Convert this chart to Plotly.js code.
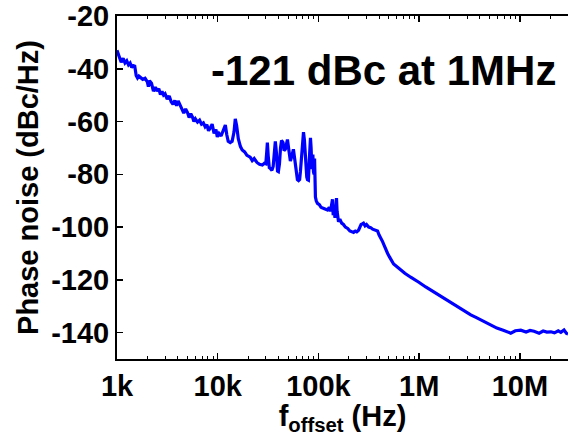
<!DOCTYPE html>
<html>
<head>
<meta charset="utf-8">
<script src="https://cdn.plot.ly/plotly-3.0.1.min.js"></script>
<style>html,body{margin:0;padding:0;background:#fff;}#chart{width:568px;height:436px;}</style>
</head>
<body>
<div id="chart"></div>
<script>
// Offset frequency (Hz)
var freqHz = [
  1000,1050,1100,1150,1200,1250,1300,1350,1400,1450,1500,1550,1600,1650,1700,1800,1900,2000,2050,2100,
  2200,2300,2400,2500,2600,2700,2800,2900,3000,3150,3300,3450,3600,3750,3900,4050,4200,4400,4600,4800,
  5000,5200,5400,5600,5800,6000,6300,6600,6900,7200,7500,7800,8100,8400,8800,9200,9600,9900,10300,10800,
  11400,11900,12300,12700,13300,13900,14500,14930,15400,16000,16800,17500,18500,19500,21000,22000,23000,24500,26000,27700,
  29000,30000,30600,31100,31700,32500,33300,34500,35500,36500,37300,38300,39200,40000,41000,42000,43000,44500,45500,46900,
  48000,49200,50500,51500,52600,54500,56400,58000,60000,61800,63500,65000,66200,68000,69500,71000,72500,74500,76500,77800,
  79500,81000,82500,83300,84500,86000,87200,88000,89200,90500,91500,92500,93300,95000,97700,102000,106000,110000,116000,123000,
  128000,132000,135000,137800,140000,143000,146000,149000,151000,153000,156000,158200,163000,170000,177000,185000,195000,205000,215000,223000,
  232000,240000,250000,258000,265000,272000,280000,290000,300000,315000,330000,345000,360000,375000,386000,400000,415000,433000,450000,470000,
  486000,510000,535000,557000,610000,655000,720000,823000,950000,1000000,1160000,1380000,1640000,1900000,2200000,2650000,3250000,3700000,4090000,4600000,
  5140000,5900000,6930000,7500000,8100000,9000000,10200000,11500000,12600000,13800000,15500000,17000000,18500000,20300000,22000000,24000000,25500000,27400000,29000000,30000000
];
// Phase noise (dBc/Hz)
var phaseNoise = [
  -33,-35.5,-37.5,-36,-37.8,-37,-38.5,-37.8,-39.5,-38.8,-39,-42.5,-43.5,-42.8,-43.2,-44,-43.6,-45,-46.8,-44.5,
  -45.5,-48.5,-47,-48.5,-47.5,-49.8,-48.6,-50,-49.5,-51.5,-50.3,-52.5,-53.5,-52,-54,-52.2,-53.5,-55.5,-56.8,-55.2,
  -56.5,-58.5,-57,-58.2,-60,-59,-60.2,-59.5,-61,-60.5,-62,-61.2,-63.5,-62.5,-61,-64.5,-63,-65.8,-64.5,-65.5,
  -63.5,-61.3,-65,-67.5,-68,-67.5,-64,-59,-61.5,-66.5,-69.5,-70.8,-71.5,-72.8,-73.5,-74.8,-74,-75.5,-76.2,-76.5,
  -75.8,-76,-72,-68,-73,-77.5,-77.8,-78.5,-77,-72,-67.5,-72,-78.8,-79,-76,-70,-67.2,-68,-71,-70.5,
  -68,-66.8,-70,-73.5,-75,-73,-70.5,-74,-79,-82,-82.4,-82,-79,-72,-66,-64,-67,-75,-81,-82,
  -82.2,-75,-68,-66.2,-70,-78,-76,-72.5,-79,-80,-74,-84,-88.6,-90,-91,-91.5,-92.5,-92.8,-93.2,-93.5,
  -92.5,-94,-91.5,-89.5,-95.5,-94,-96.5,-93,-89,-94,-97.5,-98,-97,-98.5,-99,-100,-100.5,-101.5,-101.8,-102,
  -101.5,-101.8,-101.2,-100,-99,-98.8,-98.5,-99.5,-99,-100,-100.2,-100.8,-101,-101.2,-101.5,-103,-104,-105.5,-107,-109,
  -110,-111.5,-113,-114,-115.2,-116.3,-117.5,-119,-120.3,-121,-122.7,-124.5,-126.5,-128,-129.6,-131.5,-133.3,-134.3,-135.2,-136,
  -137.2,-138.3,-139.2,-139.6,-140.2,-139.3,-139.1,-139.8,-139.2,-139.5,-140.2,-139.4,-139.8,-139.7,-140.1,-139.3,-139.9,-139,-140.3,-140.5
];
var xTickVals = [1e3, 1e4, 1e5, 1e6, 1e7];
var xTickText = ['1k', '10k', '100k', '1M', '10M'];
var yTickVals = [-140, -120, -100, -80, -60, -40, -20];
var yTickText = ['-140', '-120', '-100', '-80', '-60', '-40', '-20'];
var annotationText = '-121 dBc at 1MHz';

var minorVals = [];
for (var d = 1e3; d < 1e8; d *= 10) {
  for (var m = 2; m <= 9; m++) minorVals.push(d * m);
}

var FONT = 'Liberation Sans, Arial, Helvetica, sans-serif';

var trace = {
  x: freqHz, y: phaseNoise, type: 'scatter', mode: 'lines',
  line: {color: '#0000ff', width: 3.2}, hoverinfo: 'skip'
};

var layout = {
  width: 568, height: 436,
  margin: {l: 117, r: 0, t: 16, b: 77},
  paper_bgcolor: '#ffffff', plot_bgcolor: '#ffffff',
  showlegend: false,
  font: {family: FONT, color: '#000', size: 28, weight: 'bold'},
  xaxis: {
    type: 'log', range: [3, Math.log10(3e7)],
    tickmode: 'array', tickvals: xTickVals, ticktext: xTickText,
    ticks: 'inside', ticklen: 6, tickwidth: 1.5, tickcolor: '#000',
    minor: {tickmode: 'array', tickvals: minorVals, ticks: 'inside', ticklen: 3, tickwidth: 1, tickcolor: '#000', showgrid: false},
    showline: true, linecolor: '#000', linewidth: 2, mirror: 'ticks',
    showgrid: false, zeroline: false,
    tickfont: {family: FONT, size: 29, weight: 'bold', color: '#000'},
    title: {text: 'f<sub>offset</sub> (Hz)', font: {family: FONT, size: 29, weight: 'bold', color: '#000'}, standoff: 2}
  },
  yaxis: {
    range: [-150, -20],
    tickmode: 'array', tickvals: yTickVals, ticktext: yTickText,
    ticks: 'inside', ticklen: 6, tickwidth: 1.5, tickcolor: '#000',
    showline: true, linecolor: '#000', linewidth: 2,
    showgrid: false, zeroline: false,
    tickfont: {family: FONT, size: 29, weight: 'bold', color: '#000'},
    title: {text: 'Phase noise (dBc/Hz)', font: {family: FONT, size: 29, weight: 'bold', color: '#000'}, standoff: 4}
  },
  annotations: [{
    text: annotationText, xref: 'paper', yref: 'paper', x: 0.59, y: 0.84,
    xanchor: 'center', yanchor: 'middle', showarrow: false,
    font: {family: FONT, size: 42, weight: 'bold', color: '#000'}
  }]
};

Plotly.newPlot('chart', [trace], layout, {staticPlot: true, displayModeBar: false});
</script>
</body>
</html>
